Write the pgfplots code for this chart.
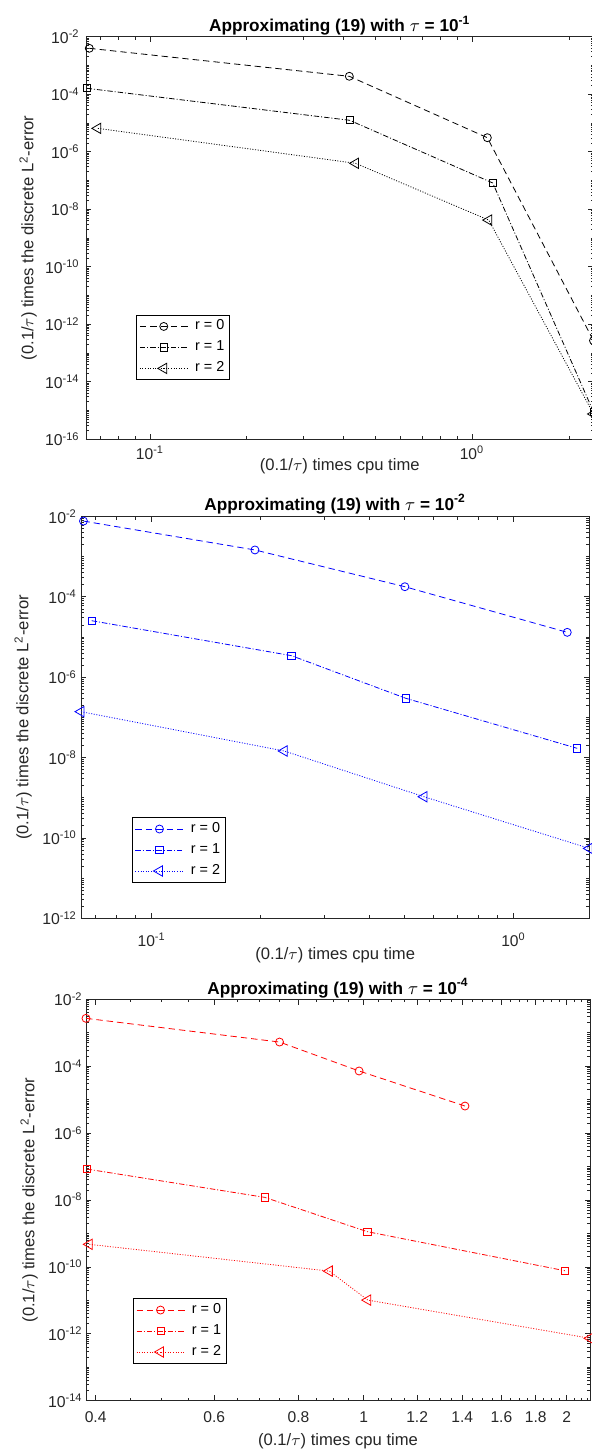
\documentclass[border=0pt]{standalone}
\usepackage{fontspec}
\setmainfont{Liberation Sans}
\usepackage{pgfplots}
\pgfplotsset{compat=1.18}
\definecolor{axgray}{rgb}{0.15,0.15,0.15}
\def\yminorlist{1e-17}
\foreach \e in {-16,...,-3}{\foreach \m in {1,...,9}{\xdef\yminorlist{\yminorlist,\m e\e}}}
\def\ttick#1{10\textsuperscript{#1}}
\tikzset{
  s0/.style={line width=0.4pt, dash pattern=on 3.2pt off 2pt, mark=o, mark size=2pt, mark options={solid}},
  s1/.style={line width=0.4pt, dash pattern=on 2.7pt off 1pt on 0.5pt off 1pt, mark=square, mark size=1.8pt, mark options={solid}},
  s2/.style={line width=0.4pt, dash pattern=on 0.5pt off 0.8pt, mark=triangle, mark size=3pt, mark options={solid, rotate=90}},
}
\pgfplotsset{
  every axis title/.style={at={(axis description cs:0.5,1)}, anchor=base, font=\bfseries\fontsize{8.6}{10}\selectfont, text=black},
  every axis x label/.style={anchor=base, font=\fontsize{8.3}{10}\selectfont, text=axgray},
  every axis y label/.style={rotate=90, anchor=base, font=\fontsize{8.3}{10}\selectfont, text=axgray},
  every axis/.append style={
    scale only axis, clip=false,
    axis line style={axgray, line width=0.4pt},
    every tick/.style={axgray, line width=0.4pt},
    major tick length=2.75pt, minor tick length=1.5pt,
    xticklabel style={anchor=base, inner sep=0pt, text=axgray, font=\fontsize{7.8}{9}\selectfont},
    yticklabel style={anchor=east, inner sep=0pt, text=axgray, font=\fontsize{7.9}{9}\selectfont},
    legend cell align=left,
    legend style={anchor=north west, draw=black, line width=0.4pt, fill=white,
      font=\fontsize{7.2}{8}\selectfont, inner xsep=1.5pt, inner ysep=1.4pt, row sep=2pt, column sep=2.5pt,
      nodes={inner sep=1pt, text=black}},
    legend image code/.code={\draw[mark repeat=2,mark phase=2] plot coordinates {(0pt,0pt) (12pt,0pt) (24pt,0pt)};},
  },
}
\begin{document}
\begin{tikzpicture}
% ---------- plot 1 ----------
\begin{axis}[xmode=log, ymode=log,
  at={(43pt,-219.65pt)}, anchor=south west,
  width=253.75pt, height=201.3pt,
  xmin=0.0633, xmax=2.384, ymin=1e-16, ymax=1e-2,
  xtick={0.1,1}, xticklabels={\ttick{-1},\ttick{0}},
  minor xtick={0.07,0.08,0.09,0.2,0.3,0.4,0.5,0.6,0.7,0.8,0.9,2},
  ytick={1e-16,1e-14,1e-12,1e-10,1e-8,1e-6,1e-4,1e-2},
  minor ytick/.expanded={\yminorlist},
  yticklabels={\ttick{-16},\ttick{-14},\ttick{-12},\ttick{-10},\ttick{-8},\ttick{-6},\ttick{-4},\ttick{-2}},
  xticklabel style={yshift=-9.85pt},
  yticklabel style={xshift=-3pt},
  title={Approximating (19) with $\tau$ = 10\textsuperscript{-1}},
  title style={yshift=2.5pt},
  xlabel={(0.1/$\tau$) times cpu time},
  xlabel style={at={(axis description cs:0.5,-0.0787)}},
  ylabel={(0.1/$\tau$) times the discrete L\textsuperscript{2}-error},
  ylabel style={at={(axis description cs:-0.1038,0.5)}},
  legend style={at={(axis description cs:0.0985,0.3095)}},
]
\addplot[black, s0] coordinates {(0.0648,3.95e-3) (0.416,4.2e-4) (1.116,3.08e-6) (2.384,2.7e-13)};
\addplot[black, s1] coordinates {(0.0636,1.61e-4) (0.417,1.24e-5) (1.16,8.2e-8) (2.384,9e-16)};
\addplot[black, s2] coordinates {(0.0689,6.5e-6) (0.435,3.96e-7) (1.127,4.2e-9) (2.384,7.6e-16)};
\legend{r = 0, r = 1, r = 2}
\end{axis}
% ---------- plot 2 ----------
\begin{axis}[xmode=log, ymode=log,
  at={(40.5pt,-459.15pt)}, anchor=south west,
  width=254.15pt, height=200.9pt,
  xmin=0.0638, xmax=1.62, ymin=1e-12, ymax=1e-2,
  xtick={0.1,1}, xticklabels={\ttick{-1},\ttick{0}},
  minor xtick={0.07,0.08,0.09,0.2,0.3,0.4,0.5,0.6,0.7,0.8,0.9},
  ytick={1e-12,1e-10,1e-8,1e-6,1e-4,1e-2},
  minor ytick/.expanded={\yminorlist},
  yticklabels={\ttick{-12},\ttick{-10},\ttick{-8},\ttick{-6},\ttick{-4},\ttick{-2}},
  xticklabel style={yshift=-13.85pt},
  yticklabel style={xshift=-1.85pt},
  title={Approximating (19) with $\tau$ = 10\textsuperscript{-2}},
  title style={yshift=3pt},
  xlabel={(0.1/$\tau$) times cpu time},
  xlabel style={at={(axis description cs:0.5,-0.102)}},
  ylabel={(0.1/$\tau$) times the discrete L\textsuperscript{2}-error},
  ylabel style={at={(axis description cs:-0.1037,0.5)}},
  legend style={at={(axis description cs:0.0997,0.2514)}},
]
\addplot[blue, s0] coordinates {(0.0648,7.7e-3) (0.193,1.47e-3) (0.501,1.79e-4) (1.408,1.31e-5)};
\addplot[blue, s1] coordinates {(0.0683,2.55e-5) (0.2435,3.44e-6) (0.504,2.99e-7) (1.50,1.7e-8)};
\addplot[blue, s2] coordinates {(0.0638,1.39e-7) (0.2324,1.46e-8) (0.566,1.06e-9) (1.62,5.5e-11)};
\legend{r = 0, r = 1, r = 2}
\end{axis}
% ---------- plot 3 ----------
\begin{axis}[xmode=log, ymode=log,
  at={(43pt,-700.35pt)}, anchor=south west,
  width=252pt, height=200.7pt,
  xmin=0.3871, xmax=2.166, ymin=1e-14, ymax=1e-2,
  xtick={0.4,0.6,0.8,1,1.2,1.4,1.6,1.8,2},
  xticklabels={0.4,0.6,0.8,1,1.2,1.4,1.6,1.8,2},
  minor xtick={0.45,0.5,0.55,0.65,0.7,0.75,0.85,0.9,0.95,1.05,1.1,1.15,1.25,1.3,1.35,1.45,1.5,1.55,1.65,1.7,1.75,1.85,1.9,1.95,2.05,2.1,2.15},
  ytick={1e-14,1e-12,1e-10,1e-8,1e-6,1e-4,1e-2},
  minor ytick/.expanded={\yminorlist},
  yticklabels={\ttick{-14},\ttick{-12},\ttick{-10},\ttick{-8},\ttick{-6},\ttick{-4},\ttick{-2}},
  xticklabel style={yshift=-11pt},
  yticklabel style={xshift=-1.5pt},
  title={Approximating (19) with $\tau$ = 10\textsuperscript{-4}},
  title style={yshift=2.65pt},
  xlabel={(0.1/$\tau$) times cpu time},
  xlabel style={at={(axis description cs:0.5,-0.1104)}},
  ylabel={(0.1/$\tau$) times the discrete L\textsuperscript{2}-error},
  ylabel style={at={(axis description cs:-0.1026,0.5)}},
  legend style={at={(axis description cs:0.0927,0.2551)}},
]
\addplot[red, s0] coordinates {(0.3871,2.7e-3) (0.750,5.28e-4) (0.984,7.2e-5) (1.413,6.45e-6)};
\addplot[red, s1] coordinates {(0.388,8.45e-8) (0.713,1.2e-8) (1.0125,1.13e-9) (1.988,7.7e-11)};
\addplot[red, s2] coordinates {(0.3915,4.74e-10) (0.889,7.5e-11) (1.0135,1.02e-11) (2.166,7.35e-13)};
\legend{r = 0, r = 1, r = 2}
\end{axis}
\pgfresetboundingbox
\path[use as bounding box] (0pt,0pt) rectangle (296pt,-725pt);
\end{tikzpicture}
\end{document}
